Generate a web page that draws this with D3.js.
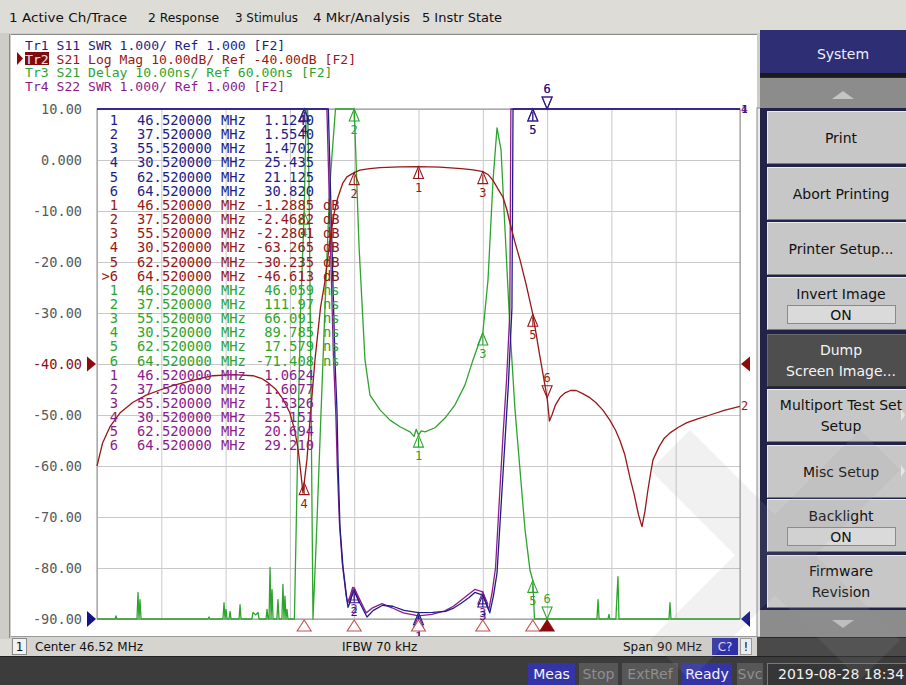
<!DOCTYPE html>
<html><head><meta charset="utf-8">
<script src="https://cdn.jsdelivr.net/npm/d3@7/dist/d3.min.js"></script>
<style>
html,body{margin:0;padding:0;background:#dcdad5;overflow:hidden}
svg{display:block}
</style></head><body>
<svg id="chart" width="906" height="685"></svg>
<script>
// ---------------- DATA ----------------
const menuItems = ["1 Active Ch/Trace", "2 Response", "3 Stimulus", "4 Mkr/Analysis", "5 Instr State"];
const traceHeaders = [
  "Tr1 S11 SWR 1.000/ Ref 1.000 [F2]",
  "Tr2 S21 Log Mag 10.00dB/ Ref -40.00dB [F2]",
  "Tr3 S21 Delay 10.00ns/ Ref 60.00ns [F2]",
  "Tr4 S22 SWR 1.000/ Ref 1.000 [F2]"
];
const centerMHz = 46.52, spanMHz = 90;
const yTickValues = [10, 0, -10, -20, -30, -40, -50, -60, -70, -80, -90];
const yTickLabels = ["10.00", "0.000", "-10.00", "-20.00", "-30.00", "-40.00", "-50.00", "-60.00", "-70.00", "-80.00", "-90.00"];

const markerNums = ["1", "2", "3", "4", "5", "6"];
const markerFreqs = [46.52, 37.52, 55.52, 30.52, 62.52, 64.52];
const s11MarkerVals = ["1.1240", "1.5540", "1.4702", "25.435", "21.125", "30.820"];
const s21MarkerVals = ["-1.2885", "-2.4682", "-2.2801", "-63.265", "-30.235", "-46.613"];
const delayMarkerVals = ["46.059", "111.97", "66.091", "89.785", "17.579", "-71.408"];
const s22MarkerVals = ["1.0624", "1.6077", "1.5326", "25.151", "20.694", "29.210"];

// S21 log magnitude (MHz, dB)
const s21Trace = [[1.52,-60.0],[2.3,-55.5],[3.34,-52.3],[4.8,-49.5],[6.56,-47.5],[8.4,-46.1],[10.34,-45.1],[12.2,-44.2],[14.12,-43.5],[16.0,-42.8],[17.76,-42.3],[20.56,-42.1],[23.36,-42.3],[24.5,-42.8],[25.3,-43.5],[26.5,-44.9],[27.56,-46.9],[28.5,-49.5],[29.2,-53.0],[29.7,-57.0],[30.1,-62.0],[30.35,-65.3],[30.52,-63.3],[30.9,-58.8],[31.33,-51.0],[32.03,-39.2],[32.8,-29.0],[33.4,-24.0],[34.1,-16.0],[34.7,-10.5],[35.2,-7.5],[35.9,-4.6],[36.5,-3.3],[37.52,-2.47],[38.3,-2.0],[39.7,-1.7],[41.13,-1.5],[43.93,-1.35],[46.52,-1.29],[49.5,-1.4],[52.5,-1.7],[54.2,-1.95],[55.52,-2.28],[56.3,-2.9],[56.95,-4.0],[57.7,-5.8],[58.35,-7.3],[58.9,-9.8],[59.33,-12.4],[60.0,-16.0],[60.73,-19.6],[61.6,-24.5],[62.52,-30.2],[63.5,-38.4],[64.52,-46.6],[64.85,-51.2],[65.2,-50.0],[65.7,-48.0],[66.4,-46.4],[67.1,-45.6],[67.8,-45.2],[68.6,-45.2],[69.5,-45.8],[70.5,-46.6],[71.3,-47.5],[72.3,-49.0],[73.3,-51.0],[74.1,-53.0],[74.72,-55.0],[75.4,-57.8],[76.12,-62.3],[76.7,-65.5],[77.3,-69.5],[77.8,-71.9],[78.2,-69.0],[78.6,-65.0],[79.0,-61.5],[79.34,-58.8],[80.2,-56.2],[80.9,-54.6],[81.72,-53.5],[82.9,-52.4],[84.1,-51.5],[85.7,-50.7],[87.32,-50.0],[89.3,-49.1],[91.52,-48.3]];

// S21 group delay (MHz, ns)
const delayTrace = [[1.52,5],[4.05,5],[4.18,10.6],[4.3,5],[7.12,5],[7.26,15.2],[7.4,8],[7.54,13.8],[7.68,5],[17.05,5],[17.2,10.4],[17.35,5],[19.15,5],[19.3,13.2],[19.44,7],[19.58,11.9],[19.72,5],[20.0,5],[20.14,11.5],[20.28,5],[21.4,5],[21.54,12.8],[21.68,5],[23.2,5],[23.36,11.3],[23.7,10.8],[24.06,11.3],[24.2,5],[25.18,5],[25.32,11.9],[25.46,6],[25.6,5],[25.74,20.1],[25.88,7],[26.02,15.8],[26.16,5],[26.7,5],[26.85,13.8],[27.0,5],[27.4,5],[27.55,16.8],[27.69,8],[27.83,14.5],[27.97,6],[28.11,11.9],[28.25,5],[29.15,5],[29.5,35],[30.0,70],[30.52,89.8],[30.8,112],[31.0,115],[31.2,95],[31.5,50],[31.75,8],[32.2,25],[32.73,45],[33.4,70],[34.1,95],[34.9,115],[37.2,113],[37.52,111.97],[38.2,83],[39.03,60.8],[39.73,53.9],[41.13,51],[42.53,49],[43.93,47.7],[45.33,46.7],[45.9,45.8],[46.2,47.2],[46.52,46.06],[46.9,46.9],[47.43,46.7],[48.83,47.5],[50.23,49.4],[51.63,52],[53.03,55.9],[54.15,60.8],[55.13,64.7],[55.52,66.09],[56.25,76.5],[56.95,96],[57.51,106.3],[58.07,102],[58.77,82.4],[59.33,66.7],[60.03,51],[60.73,39.2],[61.43,27.5],[62.13,19.5],[62.52,17.58],[62.75,9],[62.9,5],[71.5,5],[71.65,13.8],[71.8,5],[73.05,5],[73.18,10.9],[73.3,5],[74.15,5],[74.3,14.6],[74.44,18.3],[74.58,5],[81.58,5],[81.72,13.2],[81.86,5],[91.52,5]];

// S11 SWR (MHz, SWR)
const s11Trace = [[1.52,15],[33.75,15],[33.9,11.5],[34.83,6.07],[35.11,5.09],[35.25,4.11],[35.53,2.8],[35.95,2.02],[36.51,1.37],[36.65,1.23],[37.0,1.35],[37.35,1.57],[37.52,1.554],[38.33,1.31],[39.31,1.04],[40.2,1.17],[41.5,1.27],[42.9,1.25],[44.5,1.17],[46.52,1.124],[48.5,1.13],[50.3,1.15],[51.5,1.22],[52.5,1.31],[53.6,1.42],[54.4,1.52],[55.52,1.47],[56.0,1.3],[56.5,1.12],[57.0,1.45],[57.51,1.9],[58.21,3.53],[58.63,4.5],[59.1,5.6],[59.6,7.1],[59.75,11.5],[62.52,21.1],[64.52,30.8],[91.52,20]];

// S22 SWR (MHz, SWR)
const s22Trace = [[1.52,15],[33.55,15],[33.7,11.5],[34.6,6.2],[34.95,5.0],[35.15,4.0],[35.45,2.9],[35.85,2.1],[36.4,1.45],[36.6,1.32],[36.95,1.45],[37.3,1.62],[37.52,1.608],[38.3,1.38],[39.2,1.12],[40.1,1.22],[41.4,1.3],[42.8,1.22],[44.4,1.12],[46.52,1.062],[48.4,1.09],[50.2,1.16],[51.4,1.25],[52.4,1.36],[53.5,1.48],[54.4,1.58],[55.52,1.533],[55.9,1.35],[56.35,1.18],[56.8,1.5],[57.3,2.0],[57.9,3.5],[58.35,4.6],[58.85,5.7],[59.3,7.0],[59.45,11.5],[62.52,20.7],[64.52,29.2],[91.52,20]];

const softkeyTitle = "System";
const softkeys = [["Print"], ["Abort Printing"], ["Printer Setup..."], ["Invert Image", "ON"], ["Dump", "Screen Image..."], ["Multiport Test Set", "Setup"], ["Misc Setup"], ["Backlight", "ON"], ["Firmware", "Revision"]];
const statusLeft = ["1", "Center 46.52 MHz", "IFBW 70 kHz", "Span 90 MHz", "C?", "!"];
const statusTabs = ["Meas", "Stop", "ExtRef", "Ready", "Svc"];
const statusTabOn = [true, false, false, true, false];
const dateText = "2019-08-28 18:34";

// ---------------- DRAW ----------------
const svg = d3.select("#chart");
const mono = "'DejaVu Sans Mono', monospace";
const sans = "'DejaVu Sans', sans-serif";
const C1 = "#1e1e88", C2 = "#981818", C3 = "#2ea42e", C4 = "#8c1c8c";

const PL = 97, PR = 740, PT = 109, PB = 619;
const startF = centerMHz - spanMHz / 2, stopF = centerMHz + spanMHz / 2;
const x = d3.scaleLinear().domain([startF, stopF]).range([PL, PR]);
const yDb = d3.scaleLinear().domain([-90, 10]).range([PB, PT]).clamp(true);
const ySwr = d3.scaleLinear().domain([1, 11]).range([PB, PT]).clamp(true);
const yDel = d3.scaleLinear().domain([10, 110]).range([PB, PT]).clamp(true);

// background + menu bar
svg.append("rect").attr("width", 906).attr("height", 685).attr("fill", "#dedcd7");
const menuX = [9, 148, 235, 313, 422], menuW = [118, 71, 63, 97, 80];
menuItems.forEach((t, i) => svg.append("text").attr("x", menuX[i]).attr("y", 17)
  .attr("dominant-baseline", "central").attr("font-family", sans).attr("font-size", 13)
  .attr("textLength", menuW[i]).attr("lengthAdjust", "spacingAndGlyphs")
  .attr("fill", "#111").text(t));

// chart window
svg.append("rect").attr("x", 0).attr("y", 33).attr("width", 760).attr("height", 606).attr("fill", "#cfcdc8");
svg.append("line").attr("x1", 9.5).attr("x2", 9.5).attr("y1", 34).attr("y2", 638).attr("stroke", "#8a8a8a");
svg.append("rect").attr("x", 11).attr("y", 35).attr("width", 746).attr("height", 601).attr("fill", "#ffffff");
svg.append("line").attr("x1", 11).attr("x2", 757).attr("y1", 34.5).attr("y2", 34.5).attr("stroke", "#8a8a8a");
svg.append("rect").attr("x", 757).attr("y", 108).attr("width", 9).attr("height", 529).attr("fill", "#ecebe8").attr("stroke", "#8a8a8a").attr("stroke-width", 1);

// gridlines via axes
const gx = svg.append("g").attr("transform", `translate(0,${PB})`)
  .call(d3.axisBottom(x).tickValues(d3.range(11).map(i => startF + i * spanMHz / 10)).tickSize(-(PB - PT)).tickFormat(""));
gx.selectAll("line").attr("stroke", "#c9c9c9");
gx.select(".domain").remove();
const gy = svg.append("g").attr("transform", `translate(${PL},0)`)
  .call(d3.axisLeft(yDb).tickValues(yTickValues).tickSize(-(PR - PL)).tickFormat(""));
gy.selectAll("line").attr("stroke", "#c9c9c9");
gy.select(".domain").remove();
svg.append("rect").attr("x", PL).attr("y", PT).attr("width", PR - PL).attr("height", PB - PT)
  .attr("fill", "none").attr("stroke", "#8f8f8f");

// y axis labels
const yl = svg.append("g").attr("transform", `translate(${PL},0)`)
  .call(d3.axisLeft(yDb).tickValues(yTickValues).tickFormat((d, i) => yTickLabels[i]).tickSize(0).tickPadding(15));
yl.select(".domain").remove();
yl.selectAll("text").attr("font-family", mono).attr("font-size", 13.6)
  .attr("fill", d => d === -40 ? "#8b1010" : "#5a5a5a");

// reference triangles
svg.append("path").attr("d", `M87,${yDb(-40)-7.5}L96,${yDb(-40)}L87,${yDb(-40)+7.5}Z`).attr("fill", "#8b0a0a");
svg.append("path").attr("d", `M750,${yDb(-40)-7.5}L741,${yDb(-40)}L750,${yDb(-40)+7.5}Z`).attr("fill", "#8b0a0a");
svg.append("path").attr("d", `M87,${PB-8}L96,${PB}L87,${PB+8}Z`).attr("fill", "#12128a");
svg.append("path").attr("d", `M750,${PB-8}L741,${PB}L750,${PB+8}Z`).attr("fill", "#12128a");

// trace headers
const hdrColors = [C1, C2, C3, C4];
const hdrY = [45, 58.5, 72, 86];
svg.append("path").attr("d", "M17,52L23,58.5L17,65Z").attr("fill", "#8b0a0a");
svg.append("rect").attr("x", 25).attr("y", 52).attr("width", 24).attr("height", 13).attr("fill", "#7e0c0c");
traceHeaders.forEach((t, i) => {
  const tx = svg.append("text").attr("x", 25).attr("y", hdrY[i]).attr("dominant-baseline", "central")
    .attr("font-family", mono).attr("font-size", 13.1).attr("xml:space", "preserve");
  if (i === 1) {
    tx.append("tspan").attr("fill", "#ffe8e8").text(t.slice(0, 3));
    tx.append("tspan").attr("fill", hdrColors[i]).text(t.slice(3));
  } else {
    tx.attr("fill", hdrColors[i]).text(t);
  }
});

// traces
const line = (ys) => d3.line().x(d => x(d[0])).y(d => ys(d[1]));
const tg = svg.append("g").attr("fill", "none").attr("stroke-width", 1.3).attr("stroke-linejoin", "round");
tg.append("path").datum(delayTrace).attr("d", line(yDel)).attr("stroke", C3);
tg.append("path").datum(s22Trace).attr("d", line(ySwr)).attr("stroke", C4);
tg.append("path").datum(s11Trace).attr("d", line(ySwr)).attr("stroke", C1);
tg.append("path").datum(s21Trace).attr("d", line(yDb)).attr("stroke", C2);

// trace end labels
svg.append("text").attr("x", 741).attr("y", PT).attr("dominant-baseline", "central").attr("font-family", mono)
  .attr("font-size", 11).attr("font-weight", "bold").attr("fill", C4).text("4");
svg.append("text").attr("x", 741).attr("y", PT).attr("dominant-baseline", "central").attr("font-family", mono)
  .attr("font-size", 11).attr("fill", C1).text("1");
svg.append("text").attr("x", 741).attr("y", yDb(s21Trace[s21Trace.length - 1][1])).attr("dominant-baseline", "central")
  .attr("font-family", mono).attr("font-size", 12).attr("fill", C2).text("2");

// markers on traces
const mg = svg.append("g");
function drawMarker(px, py, label, color, active) {
  if (active) {
    mg.append("path").attr("d", `M${px},${py}L${px-5},${py-12}L${px+5},${py-12}Z`).attr("fill", "none").attr("stroke", color).attr("stroke-width", 1.1);
    mg.append("text").attr("x", px).attr("y", py - 20).attr("text-anchor", "middle").attr("dominant-baseline", "central")
      .attr("font-family", mono).attr("font-size", 12).attr("fill", color).text(label);
  } else {
    mg.append("path").attr("d", `M${px},${py}L${px-5},${py+12}L${px+5},${py+12}Z`).attr("fill", "none").attr("stroke", color).attr("stroke-width", 1.1);
    mg.append("line").attr("x1", px).attr("x2", px).attr("y1", py + 3).attr("y2", py + 12).attr("stroke", color);
    mg.append("text").attr("x", px).attr("y", py + 21).attr("text-anchor", "middle").attr("dominant-baseline", "central")
      .attr("font-family", mono).attr("font-size", 12).attr("fill", color).text(label);
  }
}
const groups = [
  { vals: s11MarkerVals, ys: ySwr, color: C1, unit: "" },
  { vals: s21MarkerVals, ys: yDb, color: C2, unit: "dB", activeTrace: true },
  { vals: delayMarkerVals, ys: yDel, color: C3, unit: "ns" },
  { vals: s22MarkerVals, ys: ySwr, color: C4, unit: "" }
];
[3, 2, 0, 1].forEach(gi => {
  const g = groups[gi];
  markerFreqs.forEach((f, i) => drawMarker(x(f), g.ys(parseFloat(g.vals[i])), markerNums[i], g.color, i === 5));
});

// stimulus markers below the grid
markerFreqs.forEach((f, i) => {
  const px = x(f);
  svg.append("path").attr("d", `M${px},${PB+1}L${px-7},${PB+12}L${px+7},${PB+12}Z`)
    .attr("fill", i === 5 ? "#8b0a0a" : "#ffffff").attr("stroke", i === 5 ? "#8b0a0a" : "#c85050").attr("stroke-width", 1.1);
});

// marker table
const tbl = svg.append("g").attr("font-family", mono).attr("font-size", 13.8).attr("dominant-baseline", "central");
groups.forEach((g, gi) => {
  g.vals.forEach((v, i) => {
    const y = 120 + (gi * 6 + i) * 14.15;
    const num = (g.activeTrace && i === 5) ? ">" + markerNums[i] : markerNums[i];
    tbl.append("text").attr("x", 118).attr("y", y).attr("text-anchor", "end").attr("fill", g.color).text(num);
    tbl.append("text").attr("x", 137).attr("y", y).attr("fill", g.color).text(d3.format(".6f")(markerFreqs[i]));
    tbl.append("text").attr("x", 221).attr("y", y).attr("fill", g.color).text("MHz");
    tbl.append("text").attr("x", 314).attr("y", y).attr("text-anchor", "end").attr("fill", g.color).text(v);
    if (g.unit) tbl.append("text").attr("x", 323).attr("y", y).attr("fill", g.color).text(g.unit);
  });
});

// status bar of the channel window
svg.append("rect").attr("x", 11).attr("y", 636).attr("width", 746).attr("height", 20).attr("fill", "#d6d4cf");
svg.append("line").attr("x1", 11).attr("x2", 757).attr("y1", 636.5).attr("y2", 636.5).attr("stroke", "#9a9a9a");
svg.append("rect").attr("x", 12.5).attr("y", 638.5).attr("width", 14).attr("height", 16).attr("fill", "#f2f2f2").attr("stroke", "#8a8a8a");
svg.append("rect").attr("x", 712).attr("y", 638).attr("width", 26).attr("height", 17).attr("fill", "#2f2fa8");
svg.append("rect").attr("x", 740.5).attr("y", 638.5).attr("width", 11).attr("height", 16).attr("fill", "#ececec").attr("stroke", "#9a9a9a");
const sb = svg.append("g").attr("font-family", sans).attr("font-size", 12).attr("dominant-baseline", "central").attr("fill", "#111");
sb.append("text").attr("x", 19.5).attr("y", 647).attr("text-anchor", "middle").text(statusLeft[0]);
sb.append("text").attr("x", 35).attr("y", 647).text(statusLeft[1]);
sb.append("text").attr("x", 342).attr("y", 647).text(statusLeft[2]);
sb.append("text").attr("x", 623).attr("y", 647).text(statusLeft[3]);
sb.append("text").attr("x", 725).attr("y", 647).attr("text-anchor", "middle").attr("fill", "#dcdcff").text(statusLeft[4]);
sb.append("text").attr("x", 746).attr("y", 647).attr("text-anchor", "middle").text(statusLeft[5]);

// bottom dark bar
svg.append("rect").attr("x", 0).attr("y", 656).attr("width", 906).attr("height", 29).attr("fill", "#3c3c3c");
svg.append("rect").attr("x", 757).attr("y", 637).attr("width", 149).attr("height", 19).attr("fill", "#4a4a4a");
svg.append("line").attr("x1", 0).attr("x2", 906).attr("y1", 656.5).attr("y2", 656.5).attr("stroke", "#222");
const tabX = [528, 579, 622, 682, 737], tabW = [47, 39, 56, 50, 26];
statusTabs.forEach((t, i) => {
  svg.append("rect").attr("x", tabX[i]).attr("y", 663).attr("width", tabW[i]).attr("height", 22)
    .attr("fill", statusTabOn[i] ? "#3434a6" : "#575757");
  svg.append("text").attr("x", tabX[i] + tabW[i] / 2).attr("y", 674).attr("text-anchor", "middle")
    .attr("dominant-baseline", "central").attr("font-family", sans).attr("font-size", 14)
    .attr("fill", statusTabOn[i] ? "#f4f4ff" : "#8e8e8e").text(t);
});
svg.append("rect").attr("x", 767.5).attr("y", 663.5).attr("width", 139).attr("height", 22).attr("fill", "#363636").attr("stroke", "#777");
svg.append("text").attr("x", 778).attr("y", 674).attr("dominant-baseline", "central").attr("font-family", sans)
  .attr("font-size", 14).attr("fill", "#f2f2f2").text(dateText);

// softkey panel
const pnl = svg.append("g");
pnl.append("rect").attr("x", 760).attr("y", 30).attr("width", 146).attr("height", 608).attr("fill", "#23234a");
pnl.append("rect").attr("x", 760).attr("y", 30).attr("width", 146).attr("height", 43).attr("fill", "#2e2e74");
pnl.append("text").attr("x", 843).attr("y", 54).attr("text-anchor", "middle").attr("dominant-baseline", "central")
  .attr("font-family", sans).attr("font-size", 14).attr("fill", "#eeeeff").text(softkeyTitle);
pnl.append("rect").attr("x", 760).attr("y", 73).attr("width", 146).attr("height", 4).attr("fill", "#1a1a1a");
pnl.append("rect").attr("x", 760).attr("y", 78).attr("width", 146).attr("height", 30).attr("fill", "#8c8c8c");
pnl.append("path").attr("d", "M832,99L854,99L843,91Z").attr("fill", "#c4c4c4");
const keyTop = [111, 167, 222, 277, 334, 389, 445, 499, 555];
softkeys.forEach((k, i) => {
  const t = keyTop[i], dark = i === 4;
  pnl.append("rect").attr("x", 767).attr("y", t).attr("width", 139).attr("height", 53).attr("fill", dark ? "#4e4e4e" : "#c7c7c7");
  pnl.append("path").attr("d", `M767.5,${t+52.5}V${t+0.5}H906`).attr("fill", "none").attr("stroke", dark ? "#6a6a6a" : "#ececec");
  pnl.append("path").attr("d", `M767.5,${t+52.5}H906`).attr("fill", "none").attr("stroke", dark ? "#2a2a2a" : "#7a7a7a");
  const col = dark ? "#f4f4f4" : "#111";
  const txt = (s, y) => pnl.append("text").attr("x", 841).attr("y", y).attr("text-anchor", "middle")
    .attr("dominant-baseline", "central").attr("font-family", sans).attr("font-size", 14).attr("fill", col).text(s);
  if (k.length === 1) txt(k[0], t + 27);
  else if (k[1] === "ON") {
    txt(k[0], t + 17);
    pnl.append("rect").attr("x", 787.5).attr("y", t + 28.5).attr("width", 108).attr("height", 18).attr("fill", "#dadada").attr("stroke", "#8a8a8a");
    txt(k[1], t + 37.5);
  } else { txt(k[0], t + 16); txt(k[1], t + 37); }
  if (i === 5 || i === 6) pnl.append("path").attr("d", `M901,${t+20}L905,${t+26}L901,${t+32}Z`).attr("fill", "#e6e6e6");
});
pnl.append("rect").attr("x", 760).attr("y", 610).attr("width", 146).attr("height", 27).attr("fill", "#8c8c8c");
pnl.append("path").attr("d", "M832,620L854,620L843,628Z").attr("fill", "#c4c4c4");

// faint watermark
const wm = svg.append("g").attr("fill", "#9a9a9a").attr("opacity", 0.13);
wm.append("path").attr("d", "M650,470L690,430L900,640L860,680Z");
wm.append("path").attr("d", "M860,430L900,470L690,680L650,640Z");
</script>
</body></html>
